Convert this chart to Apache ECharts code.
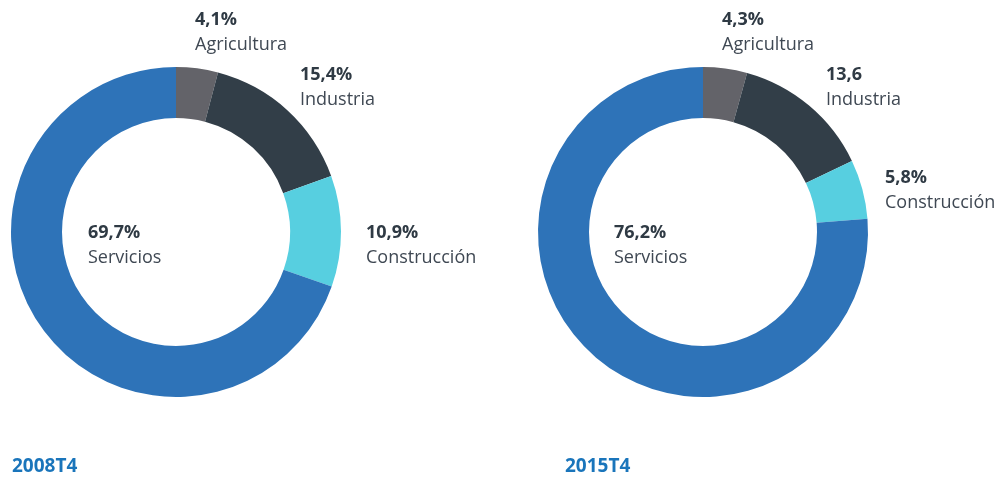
<!DOCTYPE html>
<html>
<head>
<meta charset="utf-8">
<script src="https://cdn.jsdelivr.net/npm/echarts@6/dist/echarts.min.js"></script>
<style>
  html, body { margin: 0; padding: 0; background: #fff; }
  #chart { width: 1001px; height: 477px; }
</style>
</head>
<body>
<div id="chart"></div>
<script>
// sectors, clockwise from the top
const sectors = ['Agricultura', 'Industria', 'Construcción', 'Servicios'];
const colors = ['#636369', '#323e48', '#57cfe0', '#2e73b8'];

const periods = ['2008T4', '2015T4'];
const values2008 = [4.1, 15.4, 10.9, 69.7];
const values2015 = [4.3, 13.6, 5.8, 76.2];
// labels as printed (the 2015 industry label has no % sign)
const labels2008 = ['4,1%', '15,4%', '10,9%', '69,7%'];
const labels2015 = ['4,3%', '13,6', '5,8%', '76,2%'];

// label placement (top-left of each two-line block)
const labelPos = [
    [[195, 7], [300, 62], [366, 220], [88, 220]],
    [[722, 7], [826, 62], [885, 165], [614, 220]]
];
const centers = [[176, 232], [703, 232]];

const chart = echarts.init(document.getElementById('chart'));

function makeSeries(idx, values, labels) {
    return {
        type: 'pie',
        center: centers[idx],
        radius: [114, 165],
        startAngle: 90,
        clockwise: true,
        silent: true,
        animation: false,
        data: sectors.map((name, i) => ({
            name: name,
            value: values[i],
            itemStyle: { color: colors[i] }
        })),
        label: {
            show: true,
            position: 'outside',
            overflow: 'none',
            formatter: p => '{v|' + labels[p.dataIndex] + '}\n{n|' + p.name + '}',
            rich: {
                v: { fontFamily: 'Open Sans', fontWeight: 'bold', fontSize: 18, lineHeight: 25, color: '#2f3a44' },
                n: { fontFamily: 'Open Sans', fontSize: 18, lineHeight: 25, color: '#3f4853' }
            }
        },
        labelLine: { show: false },
        labelLayout: p => ({
            x: labelPos[idx][p.dataIndex][0],
            y: labelPos[idx][p.dataIndex][1],
            align: 'left',
            verticalAlign: 'top',
            hideOverlap: false
        })
    };
}

chart.setOption({
    backgroundColor: '#fff',
    title: periods.map((t, i) => ({
        text: t,
        left: i === 0 ? 7 : 560,
        top: 452,
        textStyle: { fontFamily: 'Open Sans', fontWeight: 'bold', fontSize: 19, color: '#1a75bb' }
    })),
    series: [
        makeSeries(0, values2008, labels2008),
        makeSeries(1, values2015, labels2015)
    ]
});
</script>
</body>
</html>
